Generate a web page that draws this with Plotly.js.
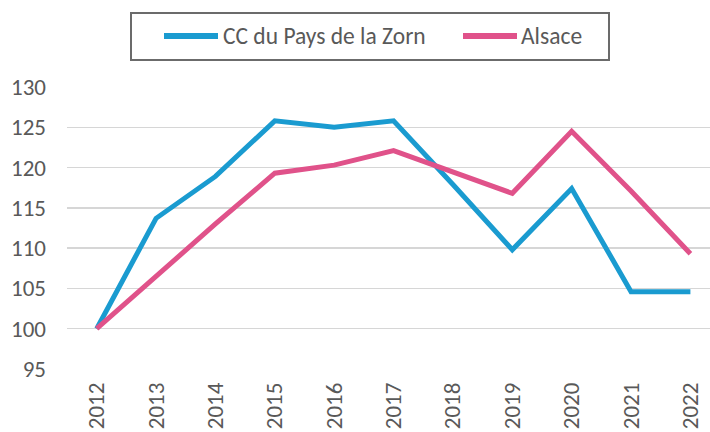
<!DOCTYPE html>
<html>
<head>
<meta charset="utf-8">
<script src="https://cdn.plot.ly/plotly-3.0.1.min.js"></script>
<style>html,body{margin:0;padding:0;background:#fff;}#chart{width:710px;height:432px;}</style>
</head>
<body>
<div id="chart"></div>
<script>
const years = ["2012","2013","2014","2015","2016","2017","2018","2019","2020","2021","2022"];
const zorn = [100, 113.7, 118.9, 125.8, 125.0, 125.8, 117.9, 109.8, 117.4, 104.6, 104.6];
const alsace = [100, 106.6, 113.0, 119.3, 120.3, 122.1, 119.5, 116.8, 124.5, 117.1, 109.3];
const yTicks = [95, 100, 105, 110, 115, 120, 125, 130];
const seriesNames = ["CC du Pays de la Zorn", "Alsace"];
const seriesColors = ["#1A9BD0", "#E0528A"];

const idx = years.map((_, i) => i);
const font = "Carlito, 'Liberation Sans Narrow', 'Liberation Sans', sans-serif";
const textColor = "#595959";

const traces = [
  {x: idx, y: zorn, name: seriesNames[0], type: "scatter", mode: "lines",
   line: {color: seriesColors[0], width: 5}},
  {x: idx, y: alsace, name: seriesNames[1], type: "scatter", mode: "lines",
   line: {color: seriesColors[1], width: 5}}
];

// Custom legend (paper pixel positions converted to paper fractions)
const W = 710, H = 432, mL = 67, mR = 0, mT = 87, mB = 63;
const pw = W - mL - mR, ph = H - mT - mB;
const px = v => (v - mL) / pw;
const py = v => (H - mB - v) / ph;

const legendBox = {x0: 131, x1: 609, y0: 13, y1: 60};
const legendItems = [
  {lx0: 164, lx1: 218, tx: 221},
  {lx0: 463, lx1: 517, tx: 519}
];
const legendY = 36;

const shapes = [{
  type: "rect", xref: "paper", yref: "paper",
  x0: px(legendBox.x0), x1: px(legendBox.x1), y0: py(legendBox.y1), y1: py(legendBox.y0),
  line: {color: "#6b6b6b", width: 2}, fillcolor: "rgba(0,0,0,0)"
}];
const annotations = [];
legendItems.forEach((it, i) => {
  shapes.push({type: "line", xref: "paper", yref: "paper",
    x0: px(it.lx0), x1: px(it.lx1), y0: py(legendY), y1: py(legendY),
    line: {color: seriesColors[i], width: 6}});
  annotations.push({xref: "paper", yref: "paper", x: px(it.tx), y: py(legendY),
    xanchor: "left", yanchor: "middle", showarrow: false, text: seriesNames[i],
    font: {family: font, size: 23.5, color: textColor}});
});

const layout = {
  width: W, height: H,
  margin: {l: mL, r: mR, t: mT, b: mB},
  paper_bgcolor: "#fff", plot_bgcolor: "#fff",
  font: {family: font, color: textColor, size: 23},
  showlegend: false,
  shapes: shapes,
  annotations: annotations,
  xaxis: {
    range: [-0.5, 10.33], tickvals: idx, ticktext: years, tickangle: -90,
    showgrid: false, zeroline: false, showline: false, ticks: "",
    ticklabelstandoff: 8,
    tickfont: {family: font, size: 23, color: textColor}, fixedrange: true
  },
  yaxis: {
    range: [95, 130], tickvals: yTicks, ticktext: yTicks.map(String),
    showgrid: true, gridcolor: "#D6D6D6", gridwidth: 1.5, zeroline: false,
    showline: false, ticks: "", ticklabelstandoff: 20,
    tickfont: {family: font, size: 23, color: textColor}, fixedrange: true
  }
};

Plotly.newPlot("chart", traces, layout, {displayModeBar: false, staticPlot: true});
</script>
</body>
</html>
